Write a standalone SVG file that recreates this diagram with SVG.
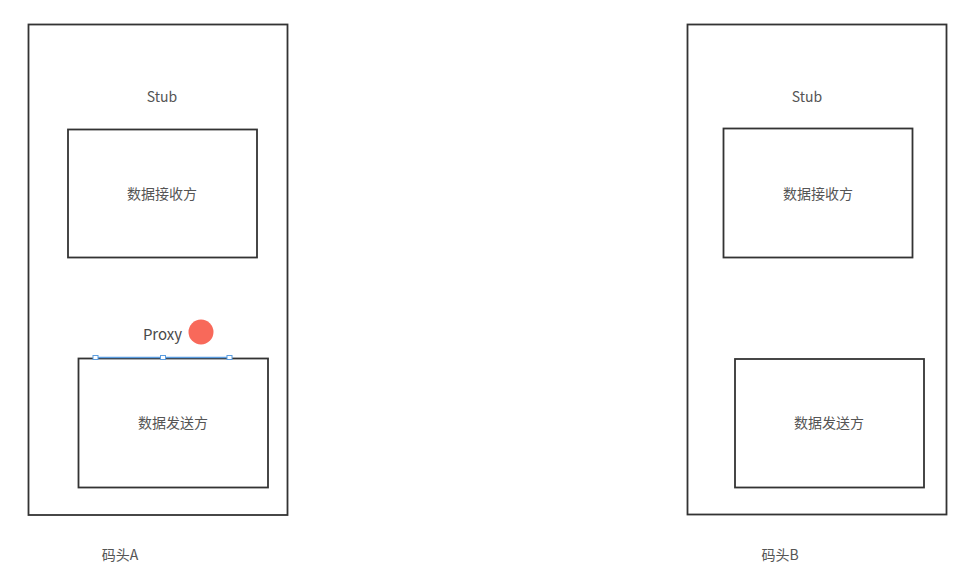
<svg xmlns="http://www.w3.org/2000/svg" width="967" height="574" viewBox="0 0 967 574">
<style>
.box{fill:none;stroke:#333;stroke-width:1.8}
.t{font-family:"Noto Sans CJK SC","Noto Sans",sans-serif;font-size:14px;fill:#555;text-anchor:middle}
.h{fill:#fff;stroke:#5b9de0;stroke-width:1}
</style>
<rect width="967" height="574" fill="#fff"/>
<g id="dockA">
<rect class="box" x="28.5" y="24.5" width="259" height="490.5"/>
<text class="t" x="162" y="102">Stub</text>
<text class="t" x="120" y="560">码头A</text>
</g>
<g id="receiverA">
<rect class="box" x="68" y="129.5" width="189" height="128"/>
<text class="t" x="162" y="199">数据接收方</text>
</g>
<g id="proxyA">
<text class="t" x="162.5" y="339.5" style="font-size:15px;fill:#4a4a4a">Proxy</text>
<circle cx="201" cy="332" r="12.5" fill="#f8695a"/>
</g>
<g id="senderA">
<rect class="box" x="78.5" y="358.5" width="189.5" height="129"/>
<text class="t" x="173" y="428">数据发送方</text>
<line x1="94" y1="357.5" x2="232" y2="357.5" stroke="#5b9de0" stroke-width="1.6"/>
<rect class="h" x="93" y="355.5" width="5" height="4"/>
<rect class="h" x="160.5" y="355.5" width="5" height="4"/>
<rect class="h" x="227" y="355.5" width="5" height="4"/>
</g>
<g id="dockB">
<rect class="box" x="687.5" y="24.5" width="259" height="490"/>
<text class="t" x="807" y="102">Stub</text>
<text class="t" x="780" y="560">码头B</text>
</g>
<g id="receiverB">
<rect class="box" x="723.5" y="128.5" width="189" height="129"/>
<text class="t" x="818" y="199">数据接收方</text>
</g>
<g id="senderB">
<rect class="box" x="735" y="359" width="189" height="128.5"/>
<text class="t" x="829" y="428">数据发送方</text>
</g>
<g id="connectors"></g>
</svg>
